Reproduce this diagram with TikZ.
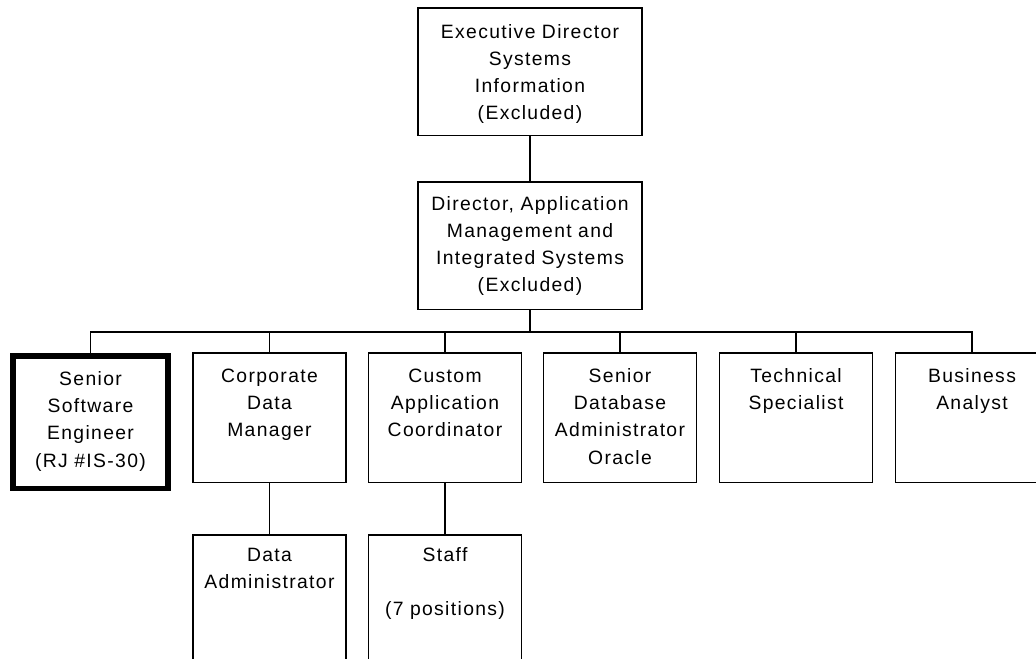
\documentclass[tikz,border=0pt]{standalone}
\usepackage{fontspec}
\setmainfont{Liberation Sans}[LetterSpace=7]
\usetikzlibrary{positioning}

\tikzset{
  post/.style={draw, line width=0.85pt, anchor=north, inner sep=0pt, outer sep=0pt,
    text width=3.06cm, minimum width=3.06cm, align=center,
    text height=17pt, text depth=56.7pt},
  head/.style={post, text width=4.48cm, minimum width=4.48cm,
    text height=17.5pt, text depth=55.1pt},
  focus/.style={post, line width=3.1pt, text width=3.1cm, minimum width=3.1cm,
    text height=17pt, text depth=58.4pt},
  lower/.style={post, text height=15.3pt, text depth=58.4pt},
  link/.style={line width=0.85pt},
}

\begin{document}
\begin{tikzpicture}[x=0.02cm, y=-0.02cm, font=\fontsize{11}{15.4}\selectfont]
\useasboundingbox (0,0) rectangle (1036,659);
\clip (0,0) rectangle (1036,659);
% Draw the two directors
\node[head] (exec) at (530,8) {Executive Director\\ Systems\\ Information\\ (Excluded)};
\node[head, text height=16pt, text depth=56.6pt] (dir) at (530,182) {Director, Application\\ Management and\\ Integrated Systems\\ (Excluded)};
% Draw the row of positions
\node[focus] (sse) at (90.5,356) {Senior\\ Software\\ Engineer\\ (RJ \#IS-30)};
\node[post] (cdm) at (269.5,353) {Corporate\\ Data\\ Manager};
\node[post] (cac) at (445,353) {Custom\\ Application\\ Coordinator};
\node[post] (sdba) at (620,353) {Senior\\ Database\\ Administrator\\ Oracle};
\node[post] (ts) at (796,353) {Technical\\ Specialist};
\node[post] (ba) at (972,353) {Business\\ Analyst};
% Draw the lower positions
\node[lower] (da) at (269.5,535) {Data\\ Administrator};
\node[lower] (staff) at (445,535) {Staff\\[15.4pt] (7 positions)};
% Draw the reporting lines
\coordinate (bus) at (530,332);
\draw[link] (exec.south) -- (dir.north);
\draw[link] (dir.south) -- (bus);
\draw[link] (sse.north) |- (bus) -| (ba.north);
\draw[link] (cdm.north) -- (cdm.north |- bus);
\draw[link] (cac.north) -- (cac.north |- bus);
\draw[link] (sdba.north) -- (sdba.north |- bus);
\draw[link] (ts.north) -- (ts.north |- bus);
\draw[link] (cdm.south) -- (da.north);
\draw[link] (cac.south) -- (staff.north);
\end{tikzpicture}
\end{document}
